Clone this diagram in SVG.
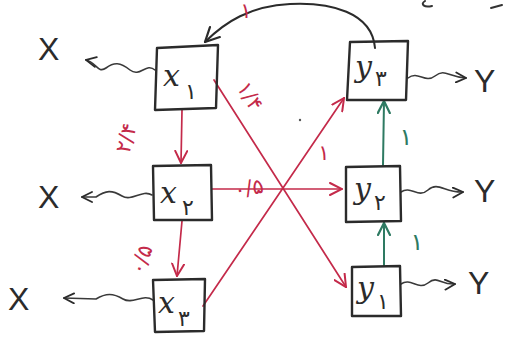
<svg xmlns="http://www.w3.org/2000/svg" width="506" height="338" viewBox="0 0 506 338">
  <style>
    .box { fill: none; stroke: #2b2b2b; stroke-width: 2.4; stroke-linejoin: round; stroke-linecap: round; }
    .lbl { font-family: "DejaVu Serif", "DejaVu Sans", serif; fill: #2b2b2b; }
    .var { font-size: 30px; font-style: italic; }
    .sub { font-size: 22px; font-family: "DejaVu Sans", sans-serif; }
    .xy { font-family: "Liberation Sans", "DejaVu Sans", sans-serif; font-size: 32px; fill: #2b2b2b; }
    .wave { fill: none; stroke: #3a3a3a; stroke-width: 1.6; stroke-linecap: round; }
    .red { fill: none; stroke: #c42a4a; stroke-width: 1.7; stroke-linecap: round; }
    .green { fill: none; stroke: #2e7a62; stroke-width: 2; stroke-linecap: round; }
    .dark { fill: none; stroke: #2b2b2b; stroke-width: 2; stroke-linecap: round; }
    .wr { font-family: "DejaVu Sans", sans-serif; font-size: 21px; fill: #c42a4a; }
    .wg { font-family: "DejaVu Sans", sans-serif; font-size: 24px; fill: #2e7a62; }
  </style>
  <defs>
    <marker id="ah-dark" viewBox="0 0 12 12" refX="11" refY="6" markerWidth="12" markerHeight="12" markerUnits="userSpaceOnUse" orient="auto">
      <path d="M1,1 L11,6 L1,11" fill="none" stroke="#2b2b2b" stroke-width="1.8" stroke-linecap="round"/>
    </marker>
    <marker id="ah-red" viewBox="0 0 14 14" refX="13" refY="7" markerWidth="14" markerHeight="14" markerUnits="userSpaceOnUse" orient="auto">
      <path d="M1,1 L13,7 L1,13" fill="none" stroke="#c42a4a" stroke-width="2" stroke-linecap="round"/>
    </marker>
    <marker id="ah-green" viewBox="0 0 14 14" refX="13" refY="7" markerWidth="14" markerHeight="14" markerUnits="userSpaceOnUse" orient="auto">
      <path d="M1,1 L13,7 L1,13" fill="none" stroke="#2e7a62" stroke-width="2.2" stroke-linecap="round"/>
    </marker>
    <marker id="ah-curve" viewBox="0 0 16 16" refX="15" refY="8" markerWidth="16" markerHeight="16" markerUnits="userSpaceOnUse" orient="auto">
      <path d="M1,1 L15,8 L1,15" fill="none" stroke="#2b2b2b" stroke-width="2.2" stroke-linecap="round"/>
    </marker>
  </defs>

  <!-- connectors -->
  <g id="connectors">
    <!-- observed outputs (wavy) -->
    <path class="wave" d="M155,70 C146,62 140,78 130,70 S114,62 106,68 S96,62 86,60" marker-end="url(#ah-dark)"/>
    <path class="wave" d="M152,195 C142,189 132,202 122,196 S106,190 96,197 L82,197" marker-end="url(#ah-dark)"/>
    <path class="wave" d="M153,300 C143,293 133,305 123,299 S106,293 96,299 L64,298" marker-end="url(#ah-dark)"/>
    <path class="wave" d="M408,78 C418,70 425,84 435,76 S448,77 466,78" marker-end="url(#ah-dark)"/>
    <path class="wave" d="M401,192 C411,185 418,199 428,190 S445,193 463,192" marker-end="url(#ah-dark)"/>
    <path class="wave" d="M401,284 C411,277 418,291 428,283 S440,285 455,284" marker-end="url(#ah-dark)"/>

    <!-- red paths -->
    <path class="red" d="M182,110 L181,163" marker-end="url(#ah-red)"/>
    <path class="red" d="M182,221 L177,276" marker-end="url(#ah-red)"/>
    <path class="red" d="M214,80 L346,287" marker-end="url(#ah-red)"/>
    <path class="red" d="M212,189 L342,189" marker-end="url(#ah-red)"/>
    <path class="red" d="M203,306 L344,98" marker-end="url(#ah-red)"/>

    <!-- green paths -->
    <path class="green" d="M384,266 L384,223" marker-end="url(#ah-green)"/>
    <path class="green" d="M383,165 L384,101" marker-end="url(#ah-green)"/>

    <!-- feedback curve -->
    <path class="dark" d="M375,48 C372,12 330,2 290,4 C250,6 225,22 205,42" marker-end="url(#ah-curve)"/>

    <!-- weights -->
    <text class="wr" x="133" y="140" text-anchor="middle" transform="rotate(-75 133 140)">۲/۴</text>
    <text class="wr" x="244" y="100" text-anchor="middle" transform="rotate(58 244 100)">۱/۴</text>
    <text class="wr" x="250" y="195" text-anchor="middle" transform="rotate(-10 250 195)">۰/۵</text>
    <text class="wr" x="148" y="262" text-anchor="middle" transform="rotate(-70 148 262)">۰/۵</text>
    <text class="wr" x="324" y="160" text-anchor="middle">۱</text>
    <text class="wr" x="246" y="18" text-anchor="middle">۱</text>
    <text class="wg" x="406" y="145" text-anchor="middle">۱</text>
    <text class="wg" x="417" y="250" text-anchor="middle">۱</text>
  </g>

  <!-- stray pen marks -->
  <circle cx="300" cy="120" r="1.2" fill="#555"/>
  <path d="M425,1 C420,4 424,8 432,6" fill="none" stroke="#333" stroke-width="2" stroke-linecap="round"/>
  <path d="M491,8 L502,5" fill="none" stroke="#333" stroke-width="2" stroke-linecap="round"/>

  <!-- source nodes -->
  <g id="x1">
    <path class="box" d="M157,48 L218,45 L216,108 L155,110 Z"/>
    <text class="lbl var" x="163" y="86">x</text>
    <text class="lbl sub" x="185" y="99">۱</text>
    <text class="xy" x="38" y="60">X</text>
  </g>
  <g id="x2">
    <path class="box" d="M153,166 L211,165 L212,220 L154,220 Z"/>
    <text class="lbl var" x="160" y="203">x</text>
    <text class="lbl sub" x="182" y="215">۲</text>
    <text class="xy" x="38" y="208">X</text>
  </g>
  <g id="x3">
    <path class="box" d="M153,280 L205,279 L204,331 L155,332 Z"/>
    <text class="lbl var" x="158" y="313">x</text>
    <text class="lbl sub" x="178" y="326">۳</text>
    <text class="xy" x="8" y="310">X</text>
  </g>

  <!-- target nodes -->
  <g id="y3">
    <path class="box" d="M350,42 L408,41 L406,100 L347,100 Z"/>
    <text class="lbl var" x="355" y="77">y</text>
    <text class="lbl sub" x="375" y="86">۳</text>
    <text class="xy" x="474" y="92">Y</text>
  </g>
  <g id="y2">
    <path class="box" d="M346,167 L400,166 L401,221 L346,222 Z"/>
    <text class="lbl var" x="354" y="199">y</text>
    <text class="lbl sub" x="374" y="210">۲</text>
    <text class="xy" x="474" y="202">Y</text>
  </g>
  <g id="y1">
    <path class="box" d="M352,267 L400,266 L401,316 L352,316 Z"/>
    <text class="lbl var" x="357" y="298">y</text>
    <text class="lbl sub" x="377" y="309">۱</text>
    <text class="xy" x="468" y="294">Y</text>
  </g>
</svg>
